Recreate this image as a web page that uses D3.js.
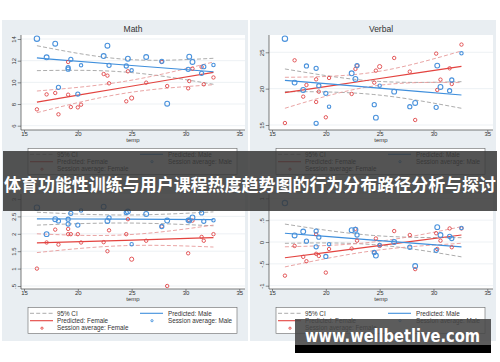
<!DOCTYPE html>
<html>
<head>
<meta charset="utf-8">
<script src="https://cdn.jsdelivr.net/npm/d3@7"></script>
<style>
  body { margin: 0; background: #fff; }
  svg { display: block; font-family: "Liberation Sans", Arial, sans-serif; }
</style>
</head>
<body>
<svg></svg>
<script>
// session temperatures (shared by all four panels)
const sessionTemps = [16.2, 17.1, 17.9, 18.2, 19.1, 19.1, 19.35, 20.0, 20.3, 22.4, 22.75, 22.9,
    24.5, 24.65, 25.0, 26.35, 27.8, 28.3, 30.25, 30.35, 30.65, 31.5, 31.7, 32.6];
const maleCounts = [5, 4, 4, 3, 3, 3, 3, 3, 2, 4, 4, 3, 3, 4, 2, 4, 3, 4, 3, 4, 4, 3, 3, 2];
const femaleCounts = [2, 2, 2, 2, 2, 2, 2, 2, 2, 2, 2, 2, 2, 2, 3, 2, 2, 2, 2, 2, 2, 2, 2, 2];

// session averages
const mathMale = [14.03, 12.31, 13.57, 9.54, 11.35, 11.22, 12.12, 8.92, 11.57, 12.43, 13.38, 11.57,
    11.51, 12.18, 11.11, 12.34, 11.94, 8.03, 11.2, 12.37, 11.88, 10.83, 11.45, 11.6];
const mathFemale = [7.51, 8.89, 9.02, 7.05, 11.88, 8.86, 7.72, 7.69, 7.94, 10.77, 10.62, 9.91,
    8.25, 11.02, 8.55, 9.97, 11.88, 9.66, 9.45, 10.12, 11.26, 11.42, 9.82, 10.45];
const verbalMale = [26.88, 20.83, 19.82, 23.12, 22.8, 15.23, 20.41, 19.36, 17.52, 22.11, 21.33, 23.17,
    17.8, 16.01, 20.41, 19.59, 17.52, 18.03, 17.43, 23.17, 20.23, 19.72, 21.19, 24.86];
const verbalFemale = [15.27, 23.9, 18.9, 20.5, 21.28, 18.17, 19.59, 16.06, 21.47, 19.27, 22.71, 23.17,
    20.83, 22.48, 23.03, 24.22, 22.34, 15.69, 24.82, 19.82, 21.24, 22.8, 20.64, 26.06];
const lowerLeftMale = [2.75, 1.99, 2.42, 2.37, 2.42, 2.28, 2.59, 2.25, 2.67, 2.78, 2.37, 2.46,
    2.61, 2.64, 1.7, 2.57, 2.21, 2.38, 2.39, 2.38, 2.47, 2.6, 2.36, 2.39];
const lowerLeftFemale = [1.0, 1.75, 2.12, 1.69, 2.14, 1.99, 1.99, 1.99, 1.75, 1.76, 1.5, 2.1,
    1.99, 2.42, 1.27, 1.8, 2.21, 0.5, 1.44, 2.39, 2.38, 1.91, 1.8, 1.99];
const lowerRightMale = [0.89, 0.15, 0.24, 0.02, 0.25, -0.11, 0.11, -0.33, -0.05, 0.27, 0.28, 0.16,
    -0.24, -0.31, -0.07, 0.0, -0.12, -0.55, -0.19, 0.34, 0.16, 0.13, 0.08, 0.32];
const lowerRightFemale = [-0.77, -0.09, -0.34, -0.44, -0.27, 0.18, -0.32, -0.7, -0.16, -0.15, 0.3, 0.03,
    -0.24, 0.08, -0.08, 0.25, 0.16, -0.62, 0.2, -0.16, 0.03, 0.31, -0.12, 0.31];

// predictions and 95% CI, at these temps
const fitTemps = [16.2, 24.4, 32.6];
const mathFitMale = [12.25, 11.6, 10.98], mathCiMaleLo = [11.08, 10.95, 9.82], mathCiMaleHi = [13.38, 12.13, 12.22];
const mathFitFemale = [8.18, 9.55, 10.92], mathCiFemaleLo = [7.2, 9.0, 9.78], mathCiFemaleHi = [9.2, 10.1, 11.88];
const verbalFitMale = [21.15, 20.14, 19.13], verbalCiMaleLo = [19.59, 19.2, 17.3], verbalCiMaleHi = [22.71, 21.05, 20.96];
const verbalFitFemale = [19.45, 21.26, 23.07], verbalCiFemaleLo = [17.3, 20.35, 20.83], verbalCiFemaleHi = [21.56, 22.25, 25.18];
const llFitMale = [2.43, 2.42, 2.41], llCiMaleLo = [2.25, 2.31, 2.23], llCiMaleHi = [2.62, 2.54, 2.63];
const llFitFemale = [1.74, 1.81, 1.89], llCiFemaleLo = [1.46, 1.66, 1.62], llCiFemaleHi = [2.0, 1.97, 2.25];
const lrFitMale = [0.2, 0.045, -0.11], lrCiMaleLo = [-0.03, -0.06, -0.34], lrCiMaleHi = [0.41, 0.15, 0.10];
const lrFitFemale = [-0.36, -0.1, 0.16], lrCiFemaleLo = [-0.57, -0.2, -0.03], lrCiFemaleHi = [-0.11, 0.0, 0.35];

// tick labels
const tempTicks = [15, 20, 25, 30, 35];
const mathTicks = [6, 8, 10, 12, 14];
const verbalTicks = [15, 20, 25];
const lowerLeftTicks = [0.5, 1, 1.5, 2, 2.5, 3];
const lowerRightTicks = [-1, -0.5, 0, 0.5, 1];

const legendLabels = ['95% CI', 'Predicted: Female', 'Session average: Female', 'Predicted: Male', 'Session average: Male'];
const bannerText = '体育功能性训练与用户课程热度趋势图的行为分布路径分析与探讨';
const watermarkText = 'www.wellbetlive.com';

(() => {
    const width = 500, height = 362;
    const blue = '#3f8fdc', red = '#e3433f', ciGray = '#a3a3a3', ciRed = '#e69b9b';

    const svg = d3.select('svg').attr('width', width).attr('height', height);
    svg.append('rect').attr('width', width).attr('height', height).attr('fill', '#fff');

    const panels = [
        { title: 'Math', dx: 0, dy: 0, ticks: mathTicks, yRange: [125.7, 39],
          male: mathMale, female: mathFemale,
          fitM: mathFitMale, loM: mathCiMaleLo, hiM: mathCiMaleHi,
          fitF: mathFitFemale, loF: mathCiFemaleLo, hiF: mathCiFemaleHi },
        { title: 'Verbal', dx: 248, dy: 0, ticks: verbalTicks, yRange: [125, 52.3],
          male: verbalMale, female: verbalFemale,
          fitM: verbalFitMale, loM: verbalCiMaleLo, hiM: verbalCiMaleHi,
          fitF: verbalFitFemale, loF: verbalCiFemaleLo, hiF: verbalCiFemaleHi },
        { title: '', dx: 0, dy: 159, ticks: lowerLeftTicks, yRange: [127, 40],
          male: lowerLeftMale, female: lowerLeftFemale,
          fitM: llFitMale, loM: llCiMaleLo, hiM: llCiMaleHi,
          fitF: llFitFemale, loF: llCiFemaleLo, hiF: llCiFemaleHi },
        { title: '', dx: 248, dy: 159, ticks: lowerRightTicks, yRange: [126.7, 39.3],
          male: lowerRightMale, female: lowerRightFemale,
          fitM: lrFitMale, loM: lrCiMaleLo, hiM: lrCiMaleHi,
          fitF: lrFitFemale, loF: lrCiFemaleLo, hiF: lrCiFemaleHi }
    ];

    const plot = { left: 21, right: 245, top: 35, bottom: 130 };
    const x = d3.scaleLinear().domain([15, 35]).range([24, 239.3]);
    const r = d3.scaleSqrt().domain([0, 5]).range([0, 2.7]);
    const fmt = d => String(d).replace(/^(-?)0\./, '$1.');

    // graph region backgrounds
    panels.forEach(p => {
        svg.append('rect')
            .attr('x', p.dx + 2).attr('y', p.dy + 20)
            .attr('width', 246).attr('height', p.dy ? 162 : 160)
            .attr('fill', '#e9eef2');
    });

    panels.forEach(p => {
        const g = svg.append('g').attr('transform', `translate(${p.dx}, ${p.dy})`);
        const y = d3.scaleLinear()
            .domain([p.ticks[0], p.ticks[p.ticks.length - 1]])
            .range(p.yRange);

        // plot region
        g.append('rect')
            .attr('x', plot.left).attr('y', plot.top)
            .attr('width', plot.right - plot.left).attr('height', plot.bottom - plot.top)
            .attr('fill', '#fff');

        g.selectAll('.grid')
            .data(p.ticks)
            .enter().append('line')
            .attr('x1', plot.left).attr('x2', plot.right)
            .attr('y1', d => y(d)).attr('y2', d => y(d))
            .attr('stroke', '#e8edf1').attr('stroke-width', 0.8);

        if (p.title) {
            g.append('text')
                .attr('x', 133).attr('y', 32)
                .attr('text-anchor', 'middle')
                .attr('font-size', 8.5).attr('fill', '#333')
                .text(p.title);
        }

        // axes
        const xAxis = g.append('g')
            .attr('transform', `translate(0, ${plot.bottom})`)
            .call(d3.axisBottom(x).tickValues(tempTicks).tickSize(2.5).tickFormat(d3.format('d')));
        xAxis.select('.domain').remove();
        xAxis.selectAll('line').attr('stroke', '#444').attr('stroke-width', 0.6);
        xAxis.selectAll('text')
            .attr('y', 6.3).attr('dy', 0)
            .attr('font-size', 6).attr('fill', '#333')
            .attr('font-family', '"Liberation Sans", Arial, sans-serif');

        const yAxis = g.append('g')
            .attr('transform', `translate(${plot.left}, 0)`)
            .call(d3.axisLeft(y).tickValues(p.ticks).tickSize(3.3).tickFormat(fmt));
        yAxis.select('.domain').remove();
        yAxis.selectAll('line').attr('stroke', '#444').attr('stroke-width', 0.6);
        yAxis.selectAll('text')
            .attr('x', 0).attr('y', -5.4).attr('dy', 0)
            .attr('transform', 'rotate(-90)')
            .attr('text-anchor', 'middle')
            .attr('font-size', 6).attr('fill', '#333')
            .attr('font-family', '"Liberation Sans", Arial, sans-serif');

        g.append('path')
            .attr('d', `M${plot.left},${plot.top}V${plot.bottom}H${plot.right}`)
            .attr('fill', 'none').attr('stroke', '#444').attr('stroke-width', 0.7);

        g.append('text')
            .attr('x', 133).attr('y', 142.4)
            .attr('text-anchor', 'middle')
            .attr('font-size', 6).attr('fill', '#333')
            .text('temp');

        // CI and predicted lines
        const line = vals => d3.line()
            .x((d, i) => x(fitTemps[i]))
            .y(d => y(d))
            .curve(d3.curveNatural)(vals);

        [[p.loM, ciGray], [p.hiM, ciGray], [p.loF, ciRed], [p.hiF, ciRed]].forEach(([vals, c]) => {
            g.append('path')
                .attr('d', line(vals))
                .attr('fill', 'none').attr('stroke', c)
                .attr('stroke-width', 0.9).attr('stroke-dasharray', '4,2.2');
        });
        g.append('path').attr('d', line(p.fitF))
            .attr('fill', 'none').attr('stroke', red).attr('stroke-width', 1.2);
        g.append('path').attr('d', line(p.fitM))
            .attr('fill', 'none').attr('stroke', blue).attr('stroke-width', 1.2);

        // session averages
        g.selectAll('.female')
            .data(sessionTemps.map((t, i) => ({ t, v: p.female[i], n: femaleCounts[i] })))
            .enter().append('circle')
            .attr('cx', d => x(d.t)).attr('cy', d => y(d.v)).attr('r', d => r(d.n))
            .attr('fill', 'none').attr('stroke', '#e0474a').attr('stroke-width', 0.9);

        g.selectAll('.male')
            .data(sessionTemps.map((t, i) => ({ t, v: p.male[i], n: maleCounts[i] })))
            .enter().append('circle')
            .attr('cx', d => x(d.t)).attr('cy', d => y(d.v)).attr('r', d => r(d.n))
            .attr('fill', 'none').attr('stroke', '#4a92dc').attr('stroke-width', 1.1);

        // legend
        const legend = g.append('g').attr('font-size', 6.3).attr('fill', '#333');
        legend.append('rect')
            .attr('x', 28).attr('y', 148.5).attr('width', 209).attr('height', 26)
            .attr('fill', '#fff').attr('stroke', '#666').attr('stroke-width', 0.6);

        const rows = [154.3, 161.7, 169.2];
        const keys = [
            { col: 0, row: 0, type: 'line', color: ciGray, dash: '4,2.2' },
            { col: 0, row: 1, type: 'line', color: red },
            { col: 0, row: 2, type: 'dot', color: red },
            { col: 1, row: 0, type: 'line', color: blue },
            { col: 1, row: 1, type: 'dot', color: blue }
        ];
        const keyX = [30, 140], textX = [57, 168];
        keys.forEach((k, i) => {
            const ky = rows[k.row];
            if (k.type === 'line') {
                legend.append('line')
                    .attr('x1', keyX[k.col]).attr('x2', keyX[k.col] + 23)
                    .attr('y1', ky).attr('y2', ky)
                    .attr('stroke', k.color).attr('stroke-width', k.dash ? 0.9 : 1.1)
                    .attr('stroke-dasharray', k.dash || null);
            } else {
                legend.append('circle')
                    .attr('cx', keyX[k.col] + 12).attr('cy', ky).attr('r', 1.1)
                    .attr('fill', 'none').attr('stroke', k.color).attr('stroke-width', 0.9);
            }
            legend.append('text')
                .attr('x', textX[k.col]).attr('y', ky + 2.2)
                .text(legendLabels[i]);
        });
    });

    // title banner
    svg.append('rect')
        .attr('x', 3).attr('y', 151).attr('width', 494).attr('height', 60)
        .attr('fill', '#383838').attr('opacity', 0.86);
    svg.append('text')
        .attr('x', 250).attr('y', 191)
        .attr('text-anchor', 'middle')
        .attr('font-family', '"Noto Sans CJK SC", sans-serif')
        .attr('font-weight', 'bold').attr('font-size', 17)
        .attr('fill', '#fff')
        .attr('textLength', 492).attr('lengthAdjust', 'spacingAndGlyphs')
        .text(bannerText);

    // watermark
    svg.append('rect')
        .attr('x', 295).attr('y', 319).attr('width', 196).attr('height', 26)
        .attr('fill', '#464646').attr('opacity', 0.88);
    svg.append('rect')
        .attr('x', 295).attr('y', 345).attr('width', 196).attr('height', 8)
        .attr('fill', '#000');
    svg.append('text')
        .attr('x', 305).attr('y', 342)
        .attr('font-family', '"DejaVu Sans", sans-serif')
        .attr('font-weight', 'bold').attr('font-size', 17)
        .attr('fill', '#fff')
        .attr('textLength', 175).attr('lengthAdjust', 'spacingAndGlyphs')
        .text(watermarkText);
})();
</script>
</body>
</html>
